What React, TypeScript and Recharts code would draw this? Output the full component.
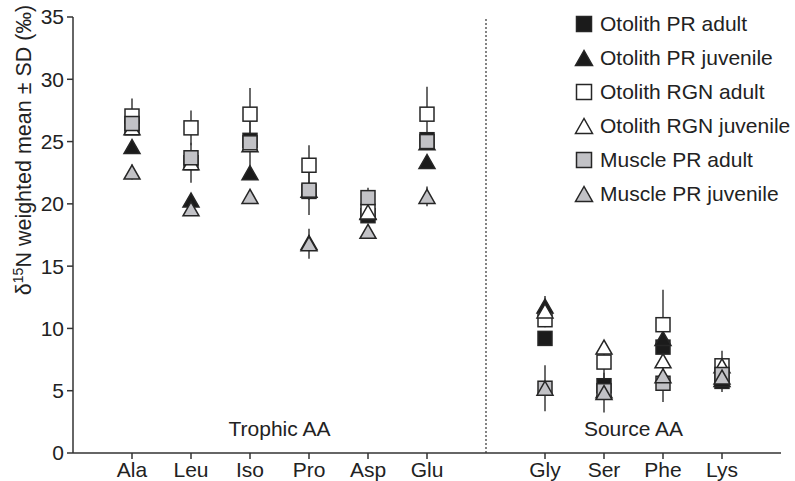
import { ScatterChart, Scatter, XAxis, YAxis, ErrorBar, ReferenceLine, ReferenceDot } from 'recharts';

const aminoAcids = ['Ala', 'Leu', 'Iso', 'Pro', 'Asp', 'Glu', 'Gly', 'Ser', 'Phe', 'Lys'];
// numeric slots on the x axis; slot 7 is the gap between trophic and source AAs
const aaPosition = [1, 2, 3, 4, 5, 6, 8, 9, 10, 11];
const yTicks = [0, 5, 10, 15, 20, 25, 30, 35];

const otolithPrAdult = [26.1, 23.3, 25.1, 21.0, 19.05, 25.15, 9.2, 5.4, 8.5, 5.75];
const otolithPrAdultSd = [0.5, 1.6, 0.6, 0.7, 0.4, 0.5, 0.6, 0.5, 0.5, 0.85];

const otolithPrJuvenile = [24.6, 20.3, 22.5, 16.9, 19.3, 23.4, 11.8, 5.0, 9.2, 5.9];
const otolithPrJuvenileSd = [0.4, 0.5, 0.5, 0.6, 0.4, 0.5, 0.8, 0.4, 0.5, 0.4];

const otolithRgnAdult = [27.05, 26.1, 27.2, 23.1, 19.4, 27.2, 10.7, 7.3, 10.3, 7.0];
const otolithRgnAdultSd = [1.4, 1.4, 2.1, 1.6, 0.5, 2.2, 0.6, 1.5, 2.8, 1.2];

const otolithRgnJuvenile = [26.1, 23.3, 24.75, 21.1, 19.35, 24.9, 11.4, 8.5, 7.4, 7.0];
const otolithRgnJuvenileSd = [0.5, 0.6, 0.5, 0.5, 0.4, 0.5, 0.6, 0.5, 0.5, 0.5];

const musclePrAdult = [26.45, 23.7, 24.9, 21.1, 20.5, 25.0, 5.2, 5.0, 5.6, 6.3];
const musclePrAdultSd = [0.5, 0.6, 1.9, 2.0, 0.8, 0.5, 1.85, 0.5, 1.5, 0.5];

const musclePrJuvenile = [22.55, 19.6, 20.6, 16.8, 17.8, 20.6, 5.2, 4.85, 6.2, 6.1];
const musclePrJuvenileSd = [0.6, 0.4, 0.4, 1.2, 0.4, 0.8, 0.5, 1.6, 0.5, 0.4];

const BLACK = '#1b1b1b';
const GREY = '#c2c2c6';
const WHITE = '#ffffff';
const EDGE = '#262626';
const INK = '#222';
const FONT = '"Liberation Sans", Arial, Helvetica, sans-serif';
const FONT_SIZE = 21;

type MarkerKind = 'square' | 'triangle';

const series: { name: string; values: number[]; sd: number[]; kind: MarkerKind; fill: string }[] = [
  { name: 'Otolith PR adult', values: otolithPrAdult, sd: otolithPrAdultSd, kind: 'square', fill: BLACK },
  { name: 'Otolith PR juvenile', values: otolithPrJuvenile, sd: otolithPrJuvenileSd, kind: 'triangle', fill: BLACK },
  { name: 'Otolith RGN adult', values: otolithRgnAdult, sd: otolithRgnAdultSd, kind: 'square', fill: WHITE },
  { name: 'Otolith RGN juvenile', values: otolithRgnJuvenile, sd: otolithRgnJuvenileSd, kind: 'triangle', fill: WHITE },
  { name: 'Muscle PR adult', values: musclePrAdult, sd: musclePrAdultSd, kind: 'square', fill: GREY },
  { name: 'Muscle PR juvenile', values: musclePrJuvenile, sd: musclePrJuvenileSd, kind: 'triangle', fill: GREY },
];

const toPoints = (values: number[], sd: number[]) =>
  aaPosition.map((x, i) => ({ x, y: values[i], sd: sd[i], aa: aminoAcids[i] }));

const Marker = ({ kind, fill, cx, cy, size }: { kind: MarkerKind; fill: string; cx: number; cy: number; size: number }) => {
  const h = size / 2;
  if (kind === 'square') {
    return <rect x={cx - h} y={cy - h} width={size} height={size} fill={fill} stroke={EDGE} strokeWidth={1.5} />;
  }
  const w = h + 1;
  return (
    <polygon
      points={`${cx},${cy - h} ${cx - w},${cy + h} ${cx + w},${cy + h}`}
      fill={fill}
      stroke={EDGE}
      strokeWidth={1.5}
      strokeLinejoin="miter"
    />
  );
};

const markerShape = (kind: MarkerKind, fill: string) => (props: any) => {
  if (props.cx == null || props.cy == null) return <g />;
  return <Marker kind={kind} fill={fill} cx={props.cx} cy={props.cy} size={14} />;
};

const noShape = () => <g />;

const YAxisTitle = () => (
  <text transform="translate(31, 150) rotate(-90)" textAnchor="middle" fontSize={21.5} fill={INK} fontFamily={FONT}>
    δ<tspan dy={-8} fontSize={14}>15</tspan>
    <tspan dy={8}>N weighted mean ± SD (‰)</tspan>
  </text>
);

const tickStyle = { fill: INK, fontSize: FONT_SIZE, fontFamily: FONT };

const ChartLegend = () => (
  <div style={{ position: 'absolute', left: 574, top: 7, fontFamily: FONT, fontSize: FONT_SIZE, color: INK }}>
    {series.map((s) => (
      <div key={s.name} style={{ display: 'flex', alignItems: 'center', height: 34 }}>
        <svg width={20} height={20} style={{ marginRight: 6 }}>
          <Marker kind={s.kind} fill={s.fill} cx={10} cy={10} size={15} />
        </svg>
        <span>{s.name}</span>
      </div>
    ))}
  </div>
);

export default function App() {
  return (
    <div style={{ position: 'absolute', left: 0, top: 0, width: 795, height: 481, background: '#fff' }}>
      <ScatterChart width={795} height={481} margin={{ top: 17, right: 14, bottom: 0, left: 0 }}>
        <XAxis
          type="number"
          dataKey="x"
          domain={[0, 12]}
          ticks={aaPosition}
          interval={0}
          tickFormatter={(v: number) => aminoAcids[aaPosition.indexOf(v)] ?? ''}
          height={28}
          tickSize={6}
          tickMargin={3}
          axisLine={{ stroke: '#333', strokeWidth: 1.5 }}
          tickLine={{ stroke: '#333', strokeWidth: 1.5 }}
          tick={tickStyle}
        />
        <YAxis
          type="number"
          dataKey="y"
          domain={[0, 35]}
          ticks={yTicks}
          interval={0}
          width={73}
          tickSize={6}
          tickMargin={3}
          axisLine={{ stroke: '#333', strokeWidth: 1.5 }}
          tickLine={{ stroke: '#333', strokeWidth: 1.5 }}
          tick={tickStyle}
          label={<YAxisTitle />}
        />
        <ReferenceLine x={7} stroke="#333" strokeWidth={1.2} strokeDasharray="2 2" />
        <ReferenceDot
          x={3.5}
          y={2}
          r={0}
          fill="none"
          stroke="none"
          label={{ value: 'Trophic AA', position: 'center', fill: INK, fontSize: FONT_SIZE, fontFamily: FONT }}
        />
        <ReferenceDot
          x={9.5}
          y={2}
          r={0}
          fill="none"
          stroke="none"
          label={{ value: 'Source AA', position: 'center', fill: INK, fontSize: FONT_SIZE, fontFamily: FONT }}
        />
        {/* SD whiskers first so every marker sits on top of them */}
        {series.map((s) => (
          <Scatter
            key={`${s.name}-sd`}
            data={toPoints(s.values, s.sd)}
            shape={noShape}
            legendType="none"
            isAnimationActive={false}
          >
            <ErrorBar dataKey="sd" direction="y" width={0} stroke="#3a3a3a" strokeWidth={1.5} />
          </Scatter>
        ))}
        {series.map((s) => (
          <Scatter
            key={s.name}
            name={s.name}
            data={toPoints(s.values, s.sd)}
            shape={markerShape(s.kind, s.fill)}
            isAnimationActive={false}
          />
        ))}
      </ScatterChart>
      <ChartLegend />
    </div>
  );
}
